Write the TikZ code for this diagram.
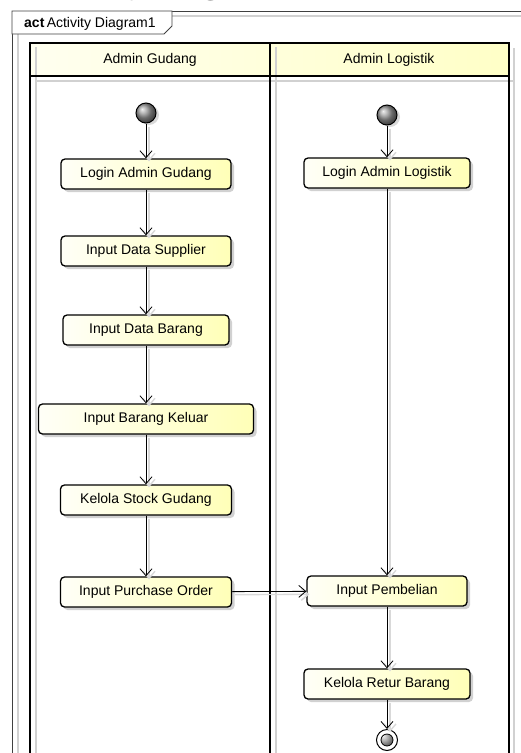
\documentclass[tikz,border=0pt]{standalone}
\usepackage{fontspec}
\setmainfont{Liberation Sans}
\newfontfamily\titlefont{Liberation Serif}
\usetikzlibrary{positioning,shadows,arrows.meta}

\begin{document}
\begin{tikzpicture}[x=1pt,y=1pt]
        % Define styles for lanes, actions and flows
        \tikzstyle{action} = [rectangle, rounded corners=4pt, draw, line width=1.3pt, left color=yellow!3, right color=yellow!28, minimum height=30pt, font=\fontsize{14}{16}\selectfont, drop shadow={shadow xshift=3pt, shadow yshift=-3pt, fill=black!18, opacity=1}]
        \tikzstyle{startnode} = [circle, draw, line width=1pt, ball color=gray!80, minimum size=20pt, inner sep=0pt, drop shadow={shadow xshift=3pt, shadow yshift=-2pt, fill=black!15, opacity=1}]
        \tikzstyle{endnode} = [circle, draw, line width=1pt, fill=white, minimum size=21pt, inner sep=0pt, path picture={\draw[ball color=gray!80, line width=0.8pt] (path picture bounding box.center) circle (6pt);}]
        \tikzstyle{flow} = [->, >={Straight Barb[length=7pt, width=12pt]}, line width=0.8pt, preaction={draw, black!15, line width=1.4pt, transform canvas={xshift=3pt, yshift=-3pt}}]
        \tikzstyle{lane} = [line width=1.6pt]
        \tikzstyle{laneshadow} = [black!18, line width=1.4pt]

        \useasboundingbox (0,0) rectangle (521,-753);

        % Cut-off title above the frame
        \begin{scope}
        \clip (0,0) rectangle (521,-753);
        \node[anchor=base west, inner sep=0pt, font=\titlefont\bfseries\fontsize{33}{33}\selectfont] (title) at (33,7) {Activity Diagram};
        \end{scope}

        % Frame with tab
        \draw[black!18, line width=1.2pt] (18,-753) -- (18,-16) -- (521,-16);
        \draw[black!75, line width=0.8pt] (12,-753) -- (12,-11) -- (521,-11);
        \draw[black!75, line width=0.8pt, fill=white] (12,-11) -- (172,-11) -- (172,-26) -- (164,-34) -- (12,-34) -- cycle;
        \node[anchor=base west, inner sep=0pt, font=\fontsize{14}{16}\selectfont] (tab) at (24,-27) {\textbf{act}\,Activity Diagram1};

        % Swimlanes
        \shade[left color=yellow!6, right color=yellow!22] (30,-43) rectangle (509,-76);
        \draw[laneshadow] (36,-753) -- (36,-47);
        \draw[laneshadow] (276,-753) -- (276,-47);
        \draw[laneshadow] (514,-753) -- (514,-48);
        \draw[laneshadow] (36,-81) -- (514,-81);
        \draw[lane] (30,-753) -- (30,-43) -- (509,-43) -- (509,-753);
        \draw[lane] (270,-43) -- (270,-753);
        \draw[lane] (30,-76) -- (509,-76);
        \node[font=\fontsize{14}{16}\selectfont] (headgudang) at (150,-60) {Admin Gudang};
        \node[font=\fontsize{14}{16}\selectfont] (headlogistik) at (389,-60) {Admin Logistik};

        % Nodes Admin Gudang
        \node[startnode] (startgudang) at (146,-113) {};
        \node[action, minimum width=170pt, below of=startgudang, node distance=61pt] (logingudang) {Login Admin Gudang};
        \node[action, minimum width=170pt, below of=logingudang, node distance=77pt] (supplier) {Input Data Supplier};
        \node[action, minimum width=166pt, below of=supplier, node distance=79pt] (databarang) {Input Data Barang};
        \node[action, minimum width=215pt, below of=databarang, node distance=89pt] (keluar) {Input Barang Keluar};
        \node[action, minimum width=171pt, below of=keluar, node distance=81pt] (stock) {Kelola Stock Gudang};
        \node[action, minimum width=171pt, below of=stock, node distance=92pt] (purchase) {Input Purchase Order};

        % Nodes Admin Logistik
        \node[startnode] (startlogistik) at (387,-115) {};
        \node[action, minimum width=166pt, below of=startlogistik, node distance=58pt] (loginlogistik) {Login Admin Logistik};
        \node[action, minimum width=160pt, below of=loginlogistik, node distance=418pt] (pembelian) {Input Pembelian};
        \node[action, minimum width=166pt, below of=pembelian, node distance=93pt] (retur) {Kelola Retur Barang};
        \node[endnode, below of=retur, node distance=56pt] (final) {};

        % Flows
        \draw[flow] (startgudang) -- (logingudang);
        \draw[flow] (logingudang) -- (supplier);
        \draw[flow] (supplier) -- (databarang);
        \draw[flow] (databarang) -- (keluar);
        \draw[flow] (keluar) -- (stock);
        \draw[flow] (stock) -- (purchase);
        \draw[flow] (purchase) -- (pembelian);
        \draw[flow] (startlogistik) -- (loginlogistik);
        \draw[flow] (loginlogistik) -- (pembelian);
        \draw[flow] (pembelian) -- (retur);
        \draw[flow] (retur) -- (final);
        \end{tikzpicture}
\end{document}
